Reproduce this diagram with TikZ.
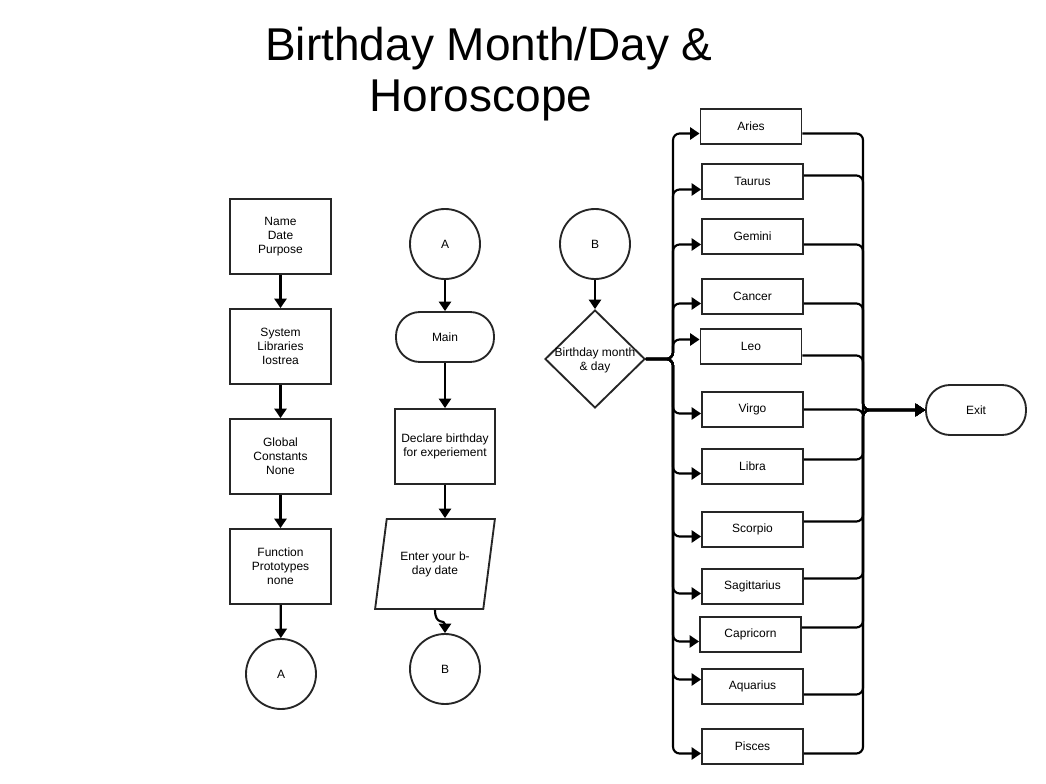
\documentclass[tikz,border=0pt]{standalone}
\usepackage{fontspec}
\setmainfont{Liberation Sans}
\usetikzlibrary{arrows.meta,shapes.geometric,positioning,calc}
\tikzstyle{shapeline}=[draw=black!85,line width=1.4pt,align=center,
                font=\fontsize{9}{10.5}\selectfont]
\tikzstyle{block}=[shapeline,rectangle,minimum width=75.75pt,minimum height=56.25pt]
\tikzstyle{sign}=[shapeline,rectangle,minimum width=75.75pt,minimum height=26.25pt]
\tikzstyle{conn}=[shapeline,circle,minimum size=52.5pt,inner sep=0pt]
\tikzstyle{term}=[shapeline,rectangle,rounded corners=18pt,minimum height=37.5pt]
\tikzstyle{flow}=[draw=black,line width=1.6pt,-{Triangle[length=7pt,width=9pt]}]
\tikzstyle{bus}=[flow,rounded corners=5pt]
\tikzstyle{heading}=[font=\fontsize{34.5}{40}\selectfont,anchor=base]

\begin{document}
\begin{tikzpicture}[x=0.75pt,y=-0.75pt]
\useasboundingbox (0,0) rectangle (1046,784);
% title
\node[heading] (title1) at (489,61) {Birthday Month/Day \&};
\node[heading] (title2) at (481,112) {Horoscope};

% left column
\node[block] (name) at (280.5,236.5) {Name\\Date\\Purpose};
\node[block] (libs) at (280.5,346.5) {System\\Libraries\\Iostrea};
\node[block] (glob) at (280.5,456.5) {Global\\Constants\\None};
\node[block] (proto) at (280.5,566.5) {Function\\Prototypes\\none};
\node[conn] (A1) at (281,674) {A};
\draw[flow] (name) -- (libs);
\draw[flow] (libs) -- (glob);
\draw[flow] (glob) -- (proto);
\draw[flow] (proto) -- (A1);

% middle column
\node[conn] (A2) at (445,244) {A};
\node[term,minimum width=73.5pt] (main) at (445,337) {Main};
\node[block,minimum width=75pt] (decl) at (445,446.5) {Declare birthday\\ for experiement};
\node[shapeline,trapezium,trapezium left angle=72.7,trapezium right angle=107.3,
      trapezium stretches=true,minimum width=90pt,minimum height=67.5pt,
      inner sep=1pt] (enter) at (435,564) {Enter your b-\\day date};
\node[conn] (B2) at (445,669) {B};
\draw[flow] (A2) -- (main);
\draw[flow] (main) -- (decl);
\draw[flow] (decl.south) -- (decl.south |- enter.north);
\draw[flow] (enter.south) .. controls +(0,16) and +(0,-14) .. (B2.north);

% right column
\node[conn] (B3) at (595,244) {B};
\node[shapeline,diamond,minimum width=75pt,minimum height=73.5pt,inner sep=0pt] (dia) at (595,359) {};
\node[align=center,font=\fontsize{9}{10.5}\selectfont] (diatext) at (595,360) {Birthday month\\ \& day};
\draw[flow] (B3) -- (dia);

\node[term,minimum width=75pt] (exit) at (976,410) {Exit};

\foreach \sname/\sx/\sy/\din/\dout in {Aries/751/126.5/7/7, Taurus/752.5/181.5/8/-6,
    Gemini/752.5/236.5/8/8, Cancer/752.5/296.5/7/7, Leo/751/346.5/-7/9,
    Virgo/752.5/409.5/4/0, Libra/752.5/466.5/7/-7, Scorpio/752.5/529.5/7/-8,
    Sagittarius/752.5/586.5/7/-8, Capricorn/750.5/634.5/7/-7,
    Aquarius/752.5/686.5/-7/8, Pisces/752.5/746.5/7/7}{
  \node[sign] (\sname) at (\sx,\sy) {\sname};
  \draw[bus] (dia.east) -- (673,359) |- ($(\sname.west)+(0,\din)$);
  \draw[bus] ($(\sname.east)+(0,\dout)$) -| (863,410) -- (exit.west);
}
\end{tikzpicture}
\end{document}
